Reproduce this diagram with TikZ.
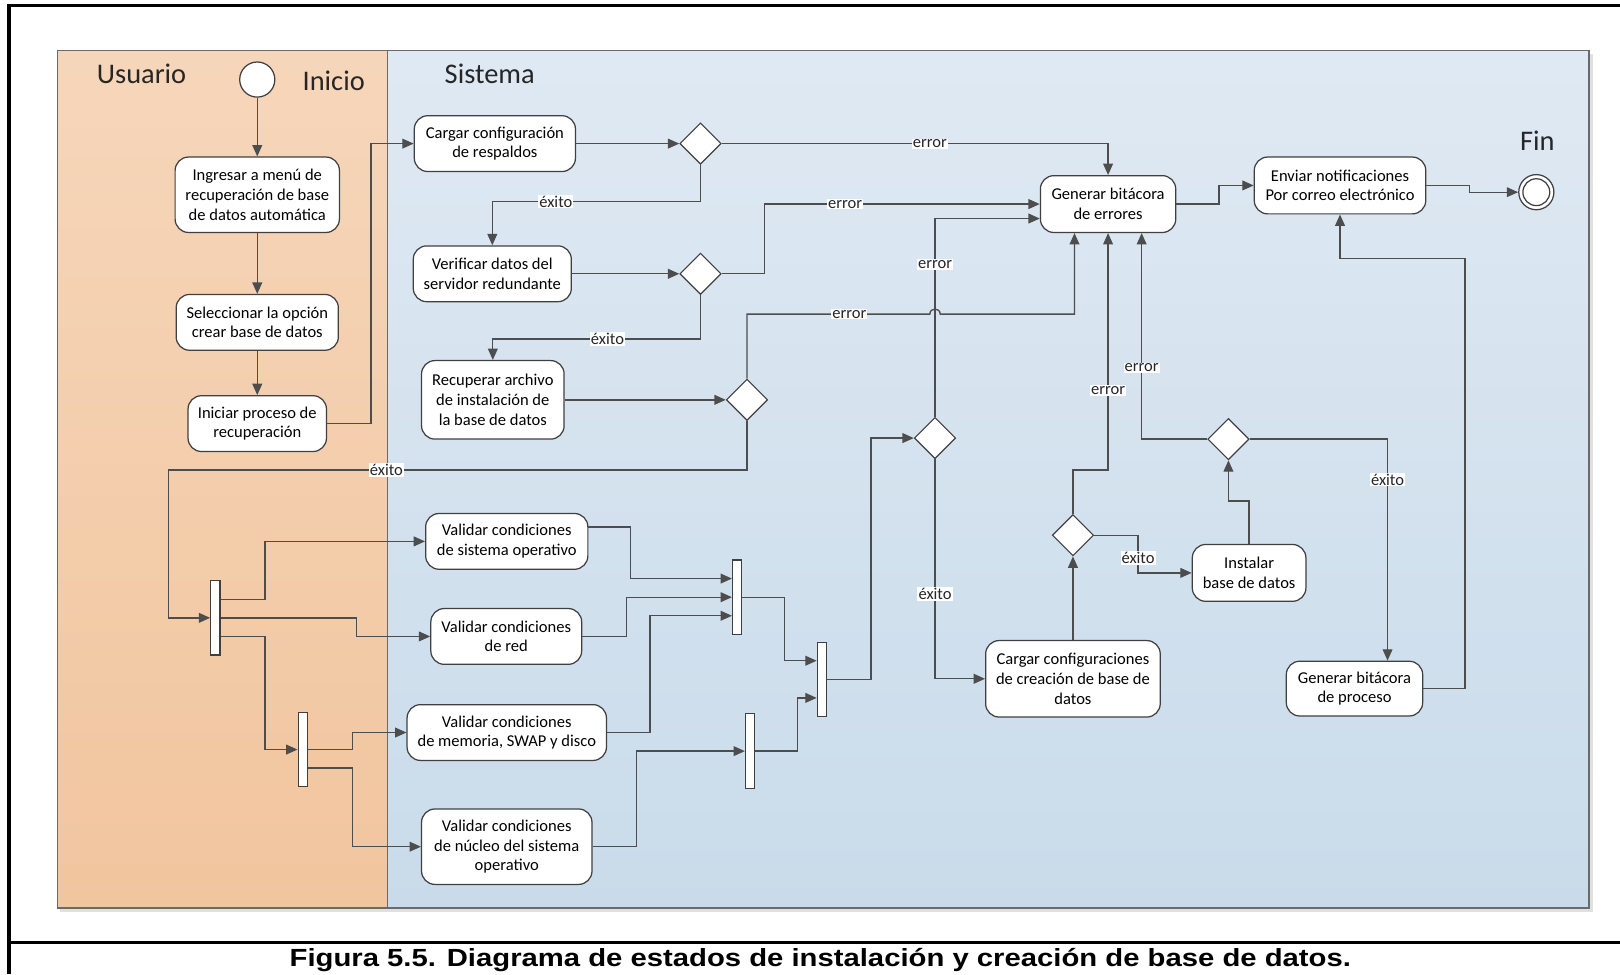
\documentclass[tikz,border=0pt]{standalone}
\usepackage{fontspec}
\setmainfont{Carlito}
\newfontfamily\capfont{Liberation Sans}
\usetikzlibrary{arrows.meta,shapes.geometric,calc}
\definecolor{lnc}{HTML}{4D4D4D}
\definecolor{bdc}{HTML}{404040}
\definecolor{usrtop}{HTML}{F6D6BA}
\definecolor{usrbot}{HTML}{F1C59E}
\definecolor{systop}{HTML}{DFE9F3}
\definecolor{sysbot}{HTML}{C9DBEA}
\definecolor{lanebd}{HTML}{6A6A6A}
\newcommand\ndfont{\fontsize{16}{19}\selectfont}
\newcommand\lanefont{\fontsize{27.5}{30}\selectfont}
\begin{document}
\begin{tikzpicture}[x=1pt,y=-1pt,
  act/.style={draw=bdc, fill=white, rounded corners=13pt, line width=1.2pt, align=center, inner sep=0pt, font=\ndfont},
  dec/.style={draw=bdc, fill=white, diamond, minimum width=40pt, minimum height=40pt, inner sep=0pt, line width=1.1pt},
  syncbar/.style={draw=bdc, fill=white, rectangle, minimum width=9pt, minimum height=72pt, inner sep=0pt, line width=1.1pt},
  conn/.style={draw=lnc, line width=1.3pt, -{Triangle[length=11pt,width=9.5pt]}},
  plain/.style={draw=lnc, line width=1.3pt},
  lbl/.style={fill=white, inner sep=1pt, font=\ndfont, text=black!85},
  lanelbl/.style={font=\lanefont, text=black!85, inner sep=0pt}]
\useasboundingbox (0,0) rectangle (1568,943);
% frame
\draw[line width=3pt] (8.7,5.5) -- (1568,5.5);
\draw[line width=3pt] (8.7,4) -- (8.7,943);
\draw[line width=3pt] (8.7,912.5) -- (1568,912.5);
% lanes
\fill[black!12] (58.5,52) rectangle (1542,883);
\shade[top color=usrtop, bottom color=usrbot] (55.5,49) rectangle (375,879);
\shade[top color=systop, bottom color=sysbot] (375,49) rectangle (1538,879);
\draw[lanebd, line width=1.6pt] (55.5,49) rectangle (1538,879);
\draw[lanebd, line width=1.3pt] (375,49) -- (375,879);
\node[lanelbl] (lu) at (137,71) {Usuario};
\node[lanelbl] (li) at (323,78) {Inicio};
\node[lanelbl] (ls) at (474,71) {Sistema};
\node[lanelbl] (lf) at (1488,136) {Fin};
% start / end
\node[circle, draw=bdc, fill=white, minimum size=34pt, inner sep=0pt, line width=1.2pt] (start) at (249,77) {};
\node[circle, draw=bdc, fill=white, minimum size=34pt, inner sep=0pt, line width=1.2pt] (end) at (1487,186) {};
\node[circle, draw=bdc, fill=white, minimum size=26pt, inner sep=0pt, line width=1.2pt] (endin) at (1487,186) {};
% activities
\node[act, minimum width=159pt, minimum height=73pt] (n1) at (249,188.5) {Ingresar a menú de\\recuperación de base\\de datos automática};
\node[act, minimum width=157pt, minimum height=54pt] (n2) at (249,312) {Seleccionar la opción\\crear base de datos};
\node[act, minimum width=134pt, minimum height=54pt] (n3) at (249,410) {Iniciar proceso de\\recuperación};
\node[act, minimum width=156pt, minimum height=54pt] (n4) at (479,139) {Cargar configuración\\de respaldos};
\node[act, minimum width=153pt, minimum height=54pt] (n5) at (476.5,265) {Verificar datos del\\servidor redundante};
\node[act, minimum width=138pt, minimum height=76pt] (n6) at (477,387) {Recuperar archivo\\de instalación de\\la base de datos};
\node[act, minimum width=131pt, minimum height=55pt] (n7) at (1072.5,197.5) {Generar bitácora\\de errores};
\node[act, minimum width=166pt, minimum height=55pt] (n8) at (1297,179.5) {Enviar notificaciones\\Por correo electrónico};
\node[act, minimum width=157pt, minimum height=54pt] (n9) at (490.5,524) {Validar condiciones\\de sistema operativo};
\node[act, minimum width=146pt, minimum height=54pt] (n10) at (490,616) {Validar condiciones\\de red};
\node[act, minimum width=193pt, minimum height=54pt] (n11) at (490.5,709) {Validar condiciones\\de memoria, SWAP y disco};
\node[act, minimum width=165pt, minimum height=73pt] (n12) at (490.5,819.5) {Validar condiciones\\de núcleo del sistema\\operativo};
\node[act, minimum width=169pt, minimum height=74pt] (n13) at (1038.5,657) {Cargar configuraciones\\de creación de base de\\datos};
\node[act, minimum width=110pt, minimum height=55pt] (n14) at (1209,554.5) {Instalar\\base de datos};
\node[act, minimum width=132pt, minimum height=53pt] (n15) at (1311,666.5) {Generar bitácora\\de proceso};
% decisions
\node[dec] (D1) at (678,139) {};
\node[dec] (D2) at (678,265) {};
\node[dec] (D3) at (723,387) {};
\node[dec] (D4) at (905,424) {};
\node[dec] (D5) at (1038.5,518) {};
\node[dec] (D6) at (1189,425) {};
% bars
\node[syncbar] (B1) at (208.5,598) {};
\node[syncbar] (B2) at (293,725.5) {};
\node[syncbar] (B3) at (713.5,578) {};
\node[syncbar] (B4) at (795.5,657.5) {};
\node[syncbar] (B5) at (726,727) {};
% connectors
\draw[conn] (start) -- (n1);
\draw[conn] (n1) -- (n2);
\draw[conn] (n2) -- (n3);
\draw[conn] (n3.east) -| (359,139) -- (n4.west);
\draw[conn] (n4.east) -- (D1.west);
\draw[conn] (D1.east) -| (n7.north) node[lbl] at (900,139) {error};
\draw[conn] (D1.south) -- (678,195) -| (n5.north) node[lbl] at (538,195) {éxito};
\draw[conn] (n5.east) -- (D2.west);
\draw[conn] (D2.east) -| (740,197.5) -- (n7.west) node[lbl] at (818,197.5) {error};
\draw[conn] (D2.south) -- (678,328) -| (n6.north) node[lbl] at (588,328) {éxito};
\draw[conn] (n6.east) -- (D3.west);
\draw[conn] (D3.north) |- (900,304) .. controls (900,297.5) and (910,297.5) .. (910,304) -| ([xshift=-32.5pt]n7.south) node[lbl] at (822,304) {error};
\draw[conn] (D3.south) -- (723,455) -| (163,598) -- (B1.west) node[lbl] at (374,455) {éxito};
\draw[conn] ([yshift=18pt]B1.east) -| (256.5,524) -- (n9.west);
\draw[conn] (B1.east) -| (345,616) -- (n10.west);
\draw[conn] ([yshift=-18pt]B1.east) -| (256.5,725.5) -- (B2.west);
\draw[conn] (B2.east) -| (341,709) -- (n11.west);
\draw[conn] ([yshift=-18pt]B2.east) -| (341,819.5) -- (n12.west);
\draw[conn] ([yshift=14pt]n9.east) -| (610.5,560) -- ([yshift=18pt]B3.west);
\draw[conn] (n10.east) -| (606.5,578) -- (B3.west);
\draw[conn] (n11.east) -| (629,596) -- ([yshift=-18pt]B3.west);
\draw[conn] (n12.east) -| (616,727) -- (B5.west);
\draw[conn] (B3.east) -| (759.5,639.5) -- ([yshift=18pt]B4.west);
\draw[conn] (B5.east) -| (772,675.5) -- ([yshift=-18pt]B4.west);
\draw[conn] (B4.east) -| (843,424) -- (D4.west);
\draw[conn] (D4.north) |- ([yshift=-14pt]n7.west) node[lbl] at (905,256) {error};
\draw[conn] (D4.south) |- (n13.west) node[lbl] at (905,575) {éxito};
\draw[conn] (n13.north) -- (D5.south);
\draw[conn] (D5.north) -- (1038.5,455) -| (n7.south) node[lbl] at (1072.5,378) {error};
\draw[conn] (D5.east) -| (1101.5,554.5) -- (n14.west) node[lbl] at (1101.5,540) {éxito};
\draw[conn] (n14.north) -- (1209,485) -| (D6.south);
\draw[conn] (D6.west) -| ([xshift=32.5pt]n7.south) node[lbl] at (1105,356) {error};
\draw[conn] (D6.east) -| ([xshift=32pt]n15.north) node[lbl] at (1343,464) {éxito};
\draw[conn] (n15.east) -| (1418,250) -| (n8.south);
\draw[conn] (n7.east) -| (1180,179.5) -- (n8.west);
\draw[conn] (n8.east) -| (1422,186) -- (end.west);
% caption
\node[inner sep=0pt] (cap) at (794,929) {\scalebox{1.18}[1]{\capfont\bfseries\fontsize{24}{28}\selectfont Figura 5.5. Diagrama de estados de instalación y creación de base de datos.}};
\end{tikzpicture}
\end{document}
